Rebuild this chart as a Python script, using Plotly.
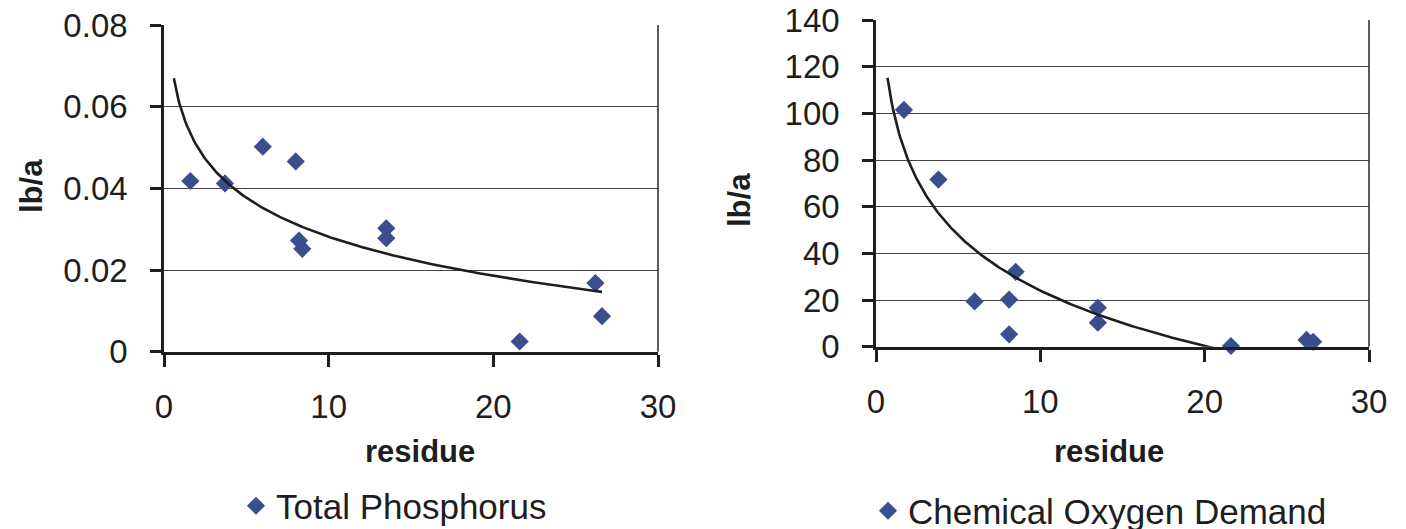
import numpy as np
import plotly.graph_objects as go

# ---- data ----
residue_tp = [1.6, 3.7, 6.0, 8.0, 8.2, 8.4, 13.5, 13.5, 21.6, 26.2, 26.6]
total_phosphorus = [0.0418, 0.0412, 0.0502, 0.0466, 0.0272, 0.0252, 0.0302, 0.0278, 0.0025, 0.0168, 0.0087]

residue_cod = [1.7, 3.8, 6.0, 8.1, 8.1, 8.5, 13.5, 13.5, 21.6, 26.2, 26.6]
chemical_oxygen_demand = [101.5, 71.6, 19.4, 20.2, 5.3, 32.1, 16.7, 10.3, 0.3, 2.9, 2.1]

x_ticks = [0, 10, 20, 30]
tp_ticks = [0, 0.02, 0.04, 0.06, 0.08]
tp_tick_labels = ["0", "0.02", "0.04", "0.06", "0.08"]
cod_ticks = [0, 20, 40, 60, 80, 100, 120, 140]

series_tp_name = "Total Phosphorus"
series_cod_name = "Chemical Oxygen Demand"
x_title = "residue"
y_title = "lb/a"

# trendline: logarithmic least-squares fit (as a spreadsheet trendline), backward forecast 1
BACKCAST = 1.0


def log_trend(xs, ys):
    xs = np.asarray(xs, float)
    ys = np.asarray(ys, float)
    b, a = np.polyfit(np.log(xs), ys, 1)
    xt = np.linspace(xs.min() - BACKCAST, xs.max(), 300)
    return xt, a + b * np.log(xt)


FONT = "Liberation Sans, Arial, sans-serif"
INK = "#1e1e1e"
MARK = "#3a4d8f"
W, H = 1406, 529

fig = go.Figure()

tx, ty = log_trend(residue_tp, total_phosphorus)
fig.add_trace(go.Scatter(x=residue_tp, y=total_phosphorus, mode="markers", name=series_tp_name,
                         marker=dict(symbol="diamond", size=14, color=MARK),
                         cliponaxis=False, xaxis="x", yaxis="y", legend="legend"))
fig.add_trace(go.Scatter(x=tx, y=ty, mode="lines", showlegend=False, hoverinfo="skip",
                         line=dict(color=INK, width=2.6), xaxis="x", yaxis="y"))

tx2, ty2 = log_trend(residue_cod, chemical_oxygen_demand)
fig.add_trace(go.Scatter(x=residue_cod, y=chemical_oxygen_demand, mode="markers", name=series_cod_name,
                         marker=dict(symbol="diamond", size=14, color=MARK),
                         cliponaxis=False, xaxis="x2", yaxis="y2", legend="legend2"))
fig.add_trace(go.Scatter(x=tx2, y=ty2, mode="lines", showlegend=False, hoverinfo="skip",
                         line=dict(color=INK, width=2.6), xaxis="x2", yaxis="y2"))


def px_x(p):
    return p / W


def px_y(p):
    return (H - p) / H


common_x = dict(range=[0, 30], tickvals=x_ticks, showgrid=False, zeroline=False, automargin=False,
                showline=True, linecolor=INK, linewidth=2.6, ticks="outside", ticklen=12,
                tickwidth=2.6, tickcolor=INK, ticklabelstandoff=12,
                tickfont=dict(family=FONT, size=33, color=INK))
common_y = dict(showgrid=True, gridcolor="#444444", gridwidth=1, zeroline=False, automargin=False,
                showline=True, linecolor=INK, linewidth=2.6, ticks="outside", ticklen=11,
                tickwidth=2.6, tickcolor=INK, ticklabelstandoff=16,
                tickfont=dict(family=FONT, size=33, color=INK))

fig.update_layout(
    template="none",
    width=W, height=H,
    margin=dict(l=0, r=0, t=0, b=0, autoexpand=False),
    paper_bgcolor="white", plot_bgcolor="white",
    xaxis=dict(domain=[px_x(164), px_x(658)], anchor="y", **common_x),
    yaxis=dict(domain=[px_y(351.7), px_y(25)], anchor="x", range=[0, 0.08],
               tickvals=tp_ticks, ticktext=tp_tick_labels, **common_y),
    xaxis2=dict(domain=[px_x(876), px_x(1369)], anchor="y2", **common_x),
    yaxis2=dict(domain=[px_y(346.7), px_y(20)], anchor="x2", range=[0, 140],
                tickvals=cod_ticks, **common_y),
    legend=dict(x=px_x(236), y=px_y(506), xanchor="left", yanchor="middle",
                font=dict(family=FONT, size=35, color=INK), itemsizing="trace",
                bgcolor="rgba(0,0,0,0)"),
    legend2=dict(x=px_x(868), y=px_y(511), xanchor="left", yanchor="middle",
                 font=dict(family=FONT, size=35, color=INK), itemsizing="trace",
                 bgcolor="rgba(0,0,0,0)"),
    showlegend=True,
)

# right-hand frame lines of the plot areas
for xr, yr in (("x domain", "y domain"), ("x2 domain", "y2 domain")):
    fig.add_shape(type="line", xref=xr, yref=yr, x0=1, x1=1, y0=0, y1=1,
                  line=dict(color="#333333", width=1.6))

# axis titles
title_font = dict(family=FONT, size=31, color=INK)
for tx_, ty_, txt, ang in ((31, 186, y_title, -90), (740, 200, y_title, -90),
                           (420, 452, x_title, 0), (1109, 452, x_title, 0)):
    fig.add_annotation(text="<b>" + txt + "</b>", xref="paper", yref="paper",
                       x=px_x(tx_), y=px_y(ty_), xanchor="center", yanchor="middle",
                       textangle=ang, showarrow=False, font=title_font)

fig.write_html("out.html")
